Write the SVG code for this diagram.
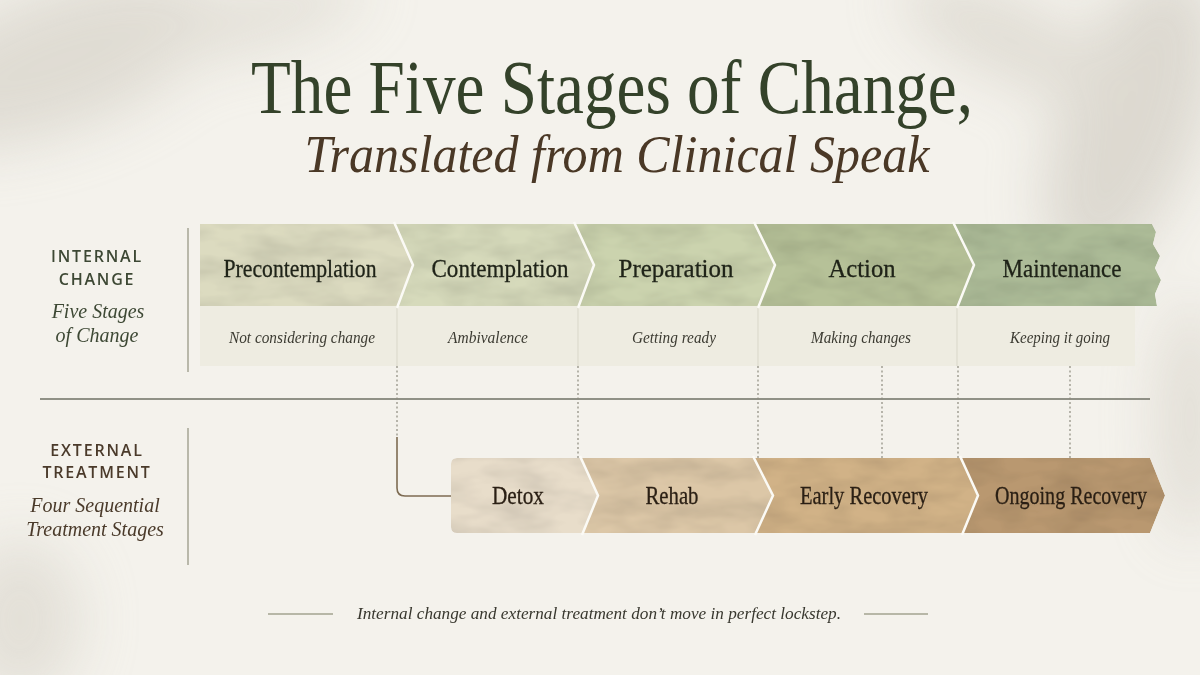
<svg xmlns="http://www.w3.org/2000/svg" width="1200" height="675" viewBox="0 0 1200 675">
<defs>
<style>
.title{font-family:"Liberation Serif","DejaVu Serif",serif;fill:#34422a;}
.sub{font-family:"Liberation Serif","DejaVu Serif",serif;font-style:italic;fill:#4a3826;}
.stage{font-family:"Liberation Serif","DejaVu Serif",serif;font-size:25px;fill:#1f2318;text-anchor:middle;stroke:#1f2318;stroke-width:0.3;}
.desc{font-family:"Liberation Serif","DejaVu Serif",serif;font-style:italic;font-size:16px;fill:#3c3b32;text-anchor:middle;}
.tstage{font-family:"Liberation Serif","DejaVu Serif",serif;font-size:25px;fill:#2a1f14;text-anchor:middle;stroke:#2a1f14;stroke-width:0.3;}
.cap{font-family:"Open Sans","Liberation Sans",sans-serif;font-weight:600;font-size:16px;letter-spacing:1.8px;text-anchor:middle;}
.capsub{font-family:"Liberation Serif","DejaVu Serif",serif;font-style:italic;font-size:20px;text-anchor:middle;}
.dot{stroke:#8c8a7e;stroke-width:1.2;stroke-dasharray:2 2.5;fill:none;}
.sep{stroke:#fbfaf5;stroke-width:2.5;fill:none;stroke-linejoin:miter;}
.vline{stroke:#a6a494;stroke-width:1.5;}
.cell{stroke:#d9d7c9;stroke-width:1;}
</style>
<filter id="blur" x="-50%" y="-50%" width="200%" height="200%"><feGaussianBlur stdDeviation="28"/></filter>
<filter id="tex" x="0" y="0" width="100%" height="100%">
<feTurbulence type="fractalNoise" baseFrequency="0.02 0.05" numOctaves="3" seed="3" result="n"/>
<feColorMatrix in="n" type="matrix" values="0 0 0 0 0  0 0 0 0 0  0 0 0 0 0  0 0 0 -0.35 0.24" result="a"/>
<feComposite in="a" in2="SourceGraphic" operator="in" result="shade"/>
<feBlend in="SourceGraphic" in2="shade" mode="multiply" result="m"/>
<feComposite in="m" in2="SourceGraphic" operator="in"/>
</filter>
</defs>

<rect width="1200" height="675" fill="#f4f2ec"/>
<g id="shadows" filter="url(#blur)" opacity="0.55">
<ellipse cx="60" cy="60" rx="170" ry="70" fill="#cfcac0" transform="rotate(-20 60 60)"/>
<ellipse cx="250" cy="20" rx="120" ry="30" fill="#d6d1c7" transform="rotate(-15 250 20)"/>
<ellipse cx="1130" cy="120" rx="70" ry="160" fill="#c9c4ba" transform="rotate(20 1130 120)"/>
<ellipse cx="1010" cy="40" rx="120" ry="40" fill="#d2cdc3" transform="rotate(25 1010 40)"/>
<ellipse cx="1190" cy="420" rx="30" ry="120" fill="#d0cbc1"/>
<ellipse cx="20" cy="620" rx="60" ry="80" fill="#d6d1c7"/>
</g>

<g id="title">
<text class="title" x="612" y="113" font-size="76" text-anchor="middle" textLength="722" lengthAdjust="spacingAndGlyphs">The Five Stages of Change,</text>
<text class="sub" x="617" y="172" font-size="52" text-anchor="middle" textLength="625" lengthAdjust="spacingAndGlyphs">Translated from Clinical Speak</text>
</g>

<g id="row-labels">
<text class="cap" x="97" y="262" fill="#3d4834">INTERNAL</text>
<text class="cap" x="97" y="285" fill="#3d4834">CHANGE</text>
<text class="capsub" x="98" y="318" fill="#3d4834">Five Stages</text>
<text class="capsub" x="97" y="342" fill="#3d4834">of Change</text>
<line class="vline" x1="188" y1="228" x2="188" y2="372"/>
<text class="cap" x="97" y="456" fill="#4a3a2a">EXTERNAL</text>
<text class="cap" x="97" y="478" fill="#4a3a2a">TREATMENT</text>
<text class="capsub" x="95" y="512" fill="#4a3a2a" font-size="19">Four Sequential</text>
<text class="capsub" x="95" y="536" fill="#4a3a2a" font-size="19">Treatment Stages</text>
<line class="vline" x1="188" y1="428" x2="188" y2="565"/>
</g>

<line id="divider" x1="40" y1="399" x2="1150" y2="399" stroke="#6f7064" stroke-width="1.6"/>

<g id="lower-panel">
<rect x="200" y="306" width="935" height="60" fill="#eeece1"/>
<line class="cell" x1="397" y1="306" x2="397" y2="366"/>
<line class="cell" x1="578" y1="306" x2="578" y2="366"/>
<line class="cell" x1="758" y1="306" x2="758" y2="366"/>
<line class="cell" x1="957" y1="306" x2="957" y2="366"/>
</g>

<g id="connectors">
<line class="dot" x1="397" y1="366" x2="397" y2="437"/>
<path d="M397 437 V488 Q397 496 405 496 H451" fill="none" stroke="#7d6b52" stroke-width="1.6"/>
<line class="dot" x1="578" y1="366" x2="578" y2="458"/>
<line class="dot" x1="758" y1="366" x2="758" y2="458"/>
<line class="dot" x1="882" y1="366" x2="882" y2="458"/>
<line class="dot" x1="958" y1="366" x2="958" y2="458"/>
<line class="dot" x1="1070" y1="366" x2="1070" y2="458"/>
</g>

<g filter="url(#tex)">
<g id="stage-precontemplation">
<polygon points="200,224 394,224 413,265 397,306 200,306" fill="#dcdbc0"/>
</g>
<g id="stage-contemplation">
<polygon points="394,224 574,224 594,265 578,306 397,306 413,265" fill="#d6dabb"/>
</g>
<g id="stage-preparation">
<polygon points="574,224 754,224 775,265 758,306 578,306 594,265" fill="#cbd3ae"/>
</g>
<g id="stage-action">
<polygon points="754,224 953,224 974,265 957,306 758,306 775,265" fill="#b6c198"/>
</g>
<g id="stage-maintenance">
<polygon points="953,224 1152,224 1156,232 1153,244 1160,256 1155,268 1161,280 1155,294 1157,306 957,306 974,265" fill="#adbc98"/>
</g>
</g>
<polyline class="sep" points="394,222 413,265 397,308"/>
<polyline class="sep" points="574,222 594,265 578,308"/>
<polyline class="sep" points="754,222 775,265 758,308"/>
<polyline class="sep" points="953,222 974,265 957,308"/>

<g id="stage-text">
<text class="stage" x="300" y="277" textLength="153" lengthAdjust="spacingAndGlyphs">Precontemplation</text>
<text class="stage" x="500" y="277" textLength="137" lengthAdjust="spacingAndGlyphs">Contemplation</text>
<text class="stage" x="676" y="277" textLength="115" lengthAdjust="spacingAndGlyphs">Preparation</text>
<text class="stage" x="862" y="277" textLength="67" lengthAdjust="spacingAndGlyphs">Action</text>
<text class="stage" x="1062" y="277" textLength="119" lengthAdjust="spacingAndGlyphs">Maintenance</text>
<text class="desc" x="302" y="343" textLength="146" lengthAdjust="spacingAndGlyphs">Not considering change</text>
<text class="desc" x="488" y="343" textLength="80" lengthAdjust="spacingAndGlyphs">Ambivalence</text>
<text class="desc" x="674" y="343" textLength="84" lengthAdjust="spacingAndGlyphs">Getting ready</text>
<text class="desc" x="861" y="343" textLength="100" lengthAdjust="spacingAndGlyphs">Making changes</text>
<text class="desc" x="1060" y="343" textLength="100" lengthAdjust="spacingAndGlyphs">Keeping it going</text>
</g>

<g filter="url(#tex)">
<g id="treat-detox">
<path d="M457,458 H580 L598,495.5 L582,533 H457 Q451,533 451,527 V464 Q451,458 457,458 Z" fill="#e8ddca"/>
</g>
<g id="treat-rehab">
<polygon points="580,458 753,458 773,495.5 755,533 582,533 598,495.5" fill="#dcc7a7"/>
</g>
<g id="treat-early">
<polygon points="753,458 960,458 978,495.5 962,533 755,533 773,495.5" fill="#d1b287"/>
</g>
<g id="treat-ongoing">
<polygon points="960,458 1150,458 1165,495.5 1150,533 962,533 978,495.5" fill="#b99870"/>
</g>
</g>
<polyline class="sep" points="580,456 598,495.5 582,535"/>
<polyline class="sep" points="753,456 773,495.5 755,535"/>
<polyline class="sep" points="960,456 978,495.5 962,535"/>

<g id="treat-text">
<text class="tstage" x="518" y="504" textLength="52" lengthAdjust="spacingAndGlyphs">Detox</text>
<text class="tstage" x="672" y="504" textLength="53" lengthAdjust="spacingAndGlyphs">Rehab</text>
<text class="tstage" x="864" y="504" textLength="128" lengthAdjust="spacingAndGlyphs">Early Recovery</text>
<text class="tstage" x="1071" y="504" textLength="152" lengthAdjust="spacingAndGlyphs">Ongoing Recovery</text>
</g>

<g id="footer">
<line x1="268" y1="614" x2="333" y2="614" stroke="#a3a391" stroke-width="1.4"/>
<line x1="864" y1="614" x2="928" y2="614" stroke="#a3a391" stroke-width="1.4"/>
<text x="599" y="619" font-family="Liberation Serif, DejaVu Serif, serif" font-style="italic" font-size="16" fill="#38372e" text-anchor="middle" textLength="484" lengthAdjust="spacingAndGlyphs">Internal change and external treatment don’t move in perfect lockstep.</text>
</g>
</svg>
